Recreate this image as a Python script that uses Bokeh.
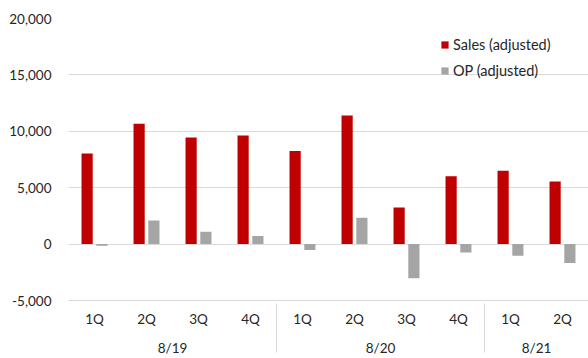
from bokeh.plotting import figure
from bokeh.models import (FactorRange, Range1d, FixedTicker, NumeralTickFormatter, ColumnDataSource,
                          Legend, LegendItem, BoxAnnotation)
from bokeh.transform import dodge
from bokeh.embed import file_html
from bokeh.resources import INLINE

years = ["8/19", "8/19", "8/19", "8/19", "8/20", "8/20", "8/20", "8/20", "8/21", "8/21"]
quarters = ["1Q", "2Q", "3Q", "4Q", "1Q", "2Q", "3Q", "4Q", "1Q", "2Q"]
sales = [8030, 10680, 9460, 9620, 8260, 11390, 3250, 6020, 6500, 5550]
op = [-150, 2100, 1090, 710, -520, 2330, -3020, -740, -1030, -1670]
y_ticks = [-5000, 0, 5000, 10000, 15000, 20000]

factors = list(zip(years, quarters))
src = ColumnDataSource(dict(x=factors, sales=sales, op=op))

FONT = "Lato"
FS = "13.5px"
TXT = "#262626"

p = figure(width=588, height=358, output_backend="svg", toolbar_location=None,
           x_range=FactorRange(*factors, group_padding=0, factor_padding=0, range_padding=0),
           y_range=Range1d(-5000, 20000),
           min_border_left=68, min_border_right=0, min_border_top=18, min_border_bottom=57)
p.outline_line_color = None
p.background_fill_color = "white"
p.border_fill_color = "white"

r1 = p.vbar(x=dodge("x", -0.142, range=p.x_range), top="sales", width=0.215, source=src,
            fill_color="#C00000", line_color=None)
r2 = p.vbar(x=dodge("x", 0.142, range=p.x_range), top="op", width=0.215, source=src,
            fill_color="#A5A5A5", line_color=None)

legend = Legend(items=[LegendItem(label="Sales (adjusted)", renderers=[r1]),
                       LegendItem(label="OP (adjusted)", renderers=[r2])],
                location=(372, 221), padding=0, margin=0, spacing=9,
                glyph_width=9, glyph_height=9, label_height=17, label_standoff=4,
                label_text_font=FONT, label_text_font_size="14.5px", label_text_color=TXT,
                background_fill_alpha=0, border_line_color=None)
p.add_layout(legend)

# left edge separator of the category axis
p.add_layout(BoxAnnotation(left=0, right=0.02, bottom=-10500, top=-5000,
                           fill_color="#d9d9d9", fill_alpha=1, line_color=None, level="overlay"))

p.yaxis.ticker = FixedTicker(ticks=y_ticks)
p.yaxis.formatter = NumeralTickFormatter(format="0,0")
p.yaxis.axis_line_color = None
p.yaxis.major_tick_line_color = None
p.yaxis.minor_tick_line_color = None
p.yaxis.major_tick_out = 0
p.yaxis.major_label_standoff = 17
p.yaxis.major_label_text_font = FONT
p.yaxis.major_label_text_font_size = FS
p.yaxis.major_label_text_color = TXT

xa = p.xaxis[0]
xa.axis_line_color = "#d9d9d9"
xa.major_tick_line_color = None
xa.major_tick_out = 0
xa.major_label_standoff = 10
xa.major_label_text_font = FONT
xa.major_label_text_font_size = FS
xa.major_label_text_color = TXT
xa.group_text_font = FONT
xa.group_text_font_size = FS
xa.group_text_font_style = "normal"
xa.group_text_color = TXT
xa.separator_line_color = "#d9d9d9"
xa.separator_line_width = 1

p.xgrid.grid_line_color = None
p.ygrid.grid_line_color = "#d9d9d9"
p.ygrid.grid_line_width = 1

open("out.html", "w").write(file_html(p, INLINE))
